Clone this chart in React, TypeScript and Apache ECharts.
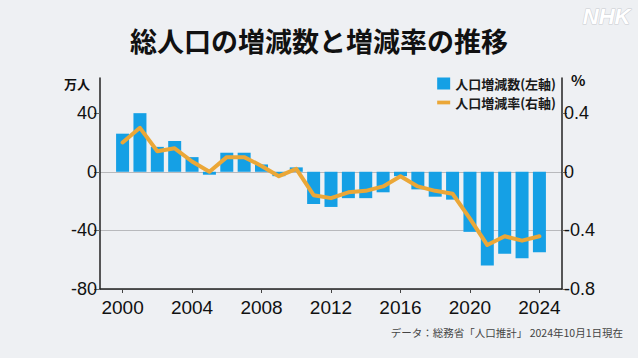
import React, { useEffect, useRef } from "react";
import * as echarts from "echarts";

const years = [2000, 2001, 2002, 2003, 2004, 2005, 2006, 2007, 2008, 2009, 2010, 2011, 2012, 2013, 2014, 2015, 2016, 2017, 2018, 2019, 2020, 2021, 2022, 2023, 2024];
const populationChange = [26, 40, 17, 21, 10, -2, 13, 13, 5, -3, 3, -22, -24, -18, -18, -14, -3, -12, -17, -19, -41, -64, -56, -59, -55];
const changeRate = [0.2, 0.3, 0.14, 0.16, 0.07, 0.0, 0.1, 0.1, 0.04, -0.03, 0.02, -0.16, -0.18, -0.14, -0.13, -0.1, -0.03, -0.1, -0.13, -0.15, -0.32, -0.5, -0.44, -0.47, -0.44];
const xTicks = [2000, 2004, 2008, 2012, 2016, 2020, 2024];
const leftTicks = [-80, -40, 0, 40];
const rightTicks = [-0.8, -0.4, 0, 0.4];
const seriesNames = ["人口増減数(左軸)", "人口増減率(右軸)"];
const titleText = "総人口の増減数と増減率の推移";
const sourceText = "データ：総務省「人口推計」 2024年10月1日現在";

const NUM_FONT = "'Liberation Sans', Arial, sans-serif";
const JP_FONT = "'Noto Sans CJK JP', sans-serif";

export default function App() {
  const ref = useRef<HTMLDivElement>(null);
  useEffect(() => {
    if (!ref.current) return;
    const chart = echarts.init(ref.current, null, { renderer: "svg" });
    chart.setOption({
      animation: false,
      backgroundColor: "#eef0f3",
      grid: { left: 100, right: 76, top: 78, bottom: 69 },
      legend: {
        orient: "vertical",
        right: 82,
        top: 77,
        padding: 0,
        itemGap: 6,
        itemWidth: 13,
        itemHeight: 12,
        textStyle: { fontFamily: JP_FONT, fontSize: 13, lineHeight: 13, fontWeight: "bold", color: "#1a1a1a" },
        data: [
          { name: seriesNames[0], icon: "rect" },
          { name: seriesNames[1], icon: "path://M0,0H14V4H0Z" },
        ],
      },
      xAxis: {
        type: "value",
        min: 1998.7,
        max: 2025.3,
        axisLine: { onZero: false, lineStyle: { color: "#222", width: 1.5 } },
        axisTick: { show: true, length: 4, customValues: xTicks, lineStyle: { color: "#444" } },
        axisLabel: {
          customValues: xTicks,
          margin: 9,
          fontFamily: NUM_FONT,
          fontSize: 19,
          color: "#111",
          formatter: (v: number) => String(v),
        },
        splitLine: { show: false },
      },
      yAxis: [
        {
          type: "value",
          min: -80,
          max: 64,
          axisLine: { show: true, lineStyle: { color: "#222", width: 1.5 } },
          axisTick: { show: true, length: 6, customValues: leftTicks, lineStyle: { color: "#666" } },
          axisLabel: { customValues: leftTicks, margin: 3, fontFamily: NUM_FONT, fontSize: 18, color: "#111" },
          splitLine: { show: true, showMaxLine: false, lineStyle: { color: "#b8b9bc", width: 1 } },
        },
        {
          type: "value",
          min: -0.8,
          max: 0.64,
          position: "right",
          axisLine: { show: true, lineStyle: { color: "#222", width: 1.5 } },
          axisTick: { show: true, length: 5, customValues: rightTicks, lineStyle: { color: "#666" } },
          axisLabel: {
            customValues: rightTicks,
            margin: 2,
            fontFamily: NUM_FONT,
            fontSize: 18,
            color: "#111",
            formatter: (v: number) => (Math.abs(v) < 1e-9 ? "0" : String(Math.round(v * 10) / 10)),
          },
          splitLine: { show: false },
        },
      ],
      graphic: [
        {
          type: "text",
          left: "center",
          top: 27,
          style: { text: titleText, fontFamily: JP_FONT, fontSize: 27, fontWeight: "bold", fill: "#111" },
        },
        {
          type: "text",
          right: 548,
          top: 77,
          style: { text: "万人", fontFamily: JP_FONT, fontSize: 13, fontWeight: "bold", fill: "#111" },
        },
        {
          type: "text",
          left: 571,
          top: 72,
          style: { text: "%", fontFamily: JP_FONT, fontSize: 15, fontWeight: "bold", fill: "#111" },
        },
        {
          type: "text",
          right: 15,
          top: 327,
          style: { text: sourceText, fontFamily: JP_FONT, fontSize: 10.5, fill: "#444" },
        },
        {
          type: "text",
          right: 7,
          top: 5,
          style: {
            text: "NHK",
            fontFamily: NUM_FONT,
            fontSize: 22,
            fontWeight: "bold",
            fontStyle: "italic",
            fill: "#ffffff",
            stroke: "#c9ccd1",
            lineWidth: 1,
          },
        },
      ],
      series: [
        {
          name: seriesNames[0],
          type: "bar",
          yAxisIndex: 0,
          barWidth: 13,
          itemStyle: { color: "#15a0e5" },
          data: years.map((y, i) => [y, populationChange[i]]),
        },
        {
          name: seriesNames[1],
          type: "line",
          yAxisIndex: 1,
          symbol: "none",
          lineStyle: { color: "#eba737", width: 4, cap: "round", join: "round" },
          itemStyle: { color: "#eba737" },
          data: years.map((y, i) => [y, changeRate[i]]),
        },
      ],
    });
    return () => chart.dispose();
  }, []);
  return (
    <div
      ref={ref}
      style={{ position: "fixed", left: 0, top: 0, width: 638, height: 358 }}
    />
  );
}
